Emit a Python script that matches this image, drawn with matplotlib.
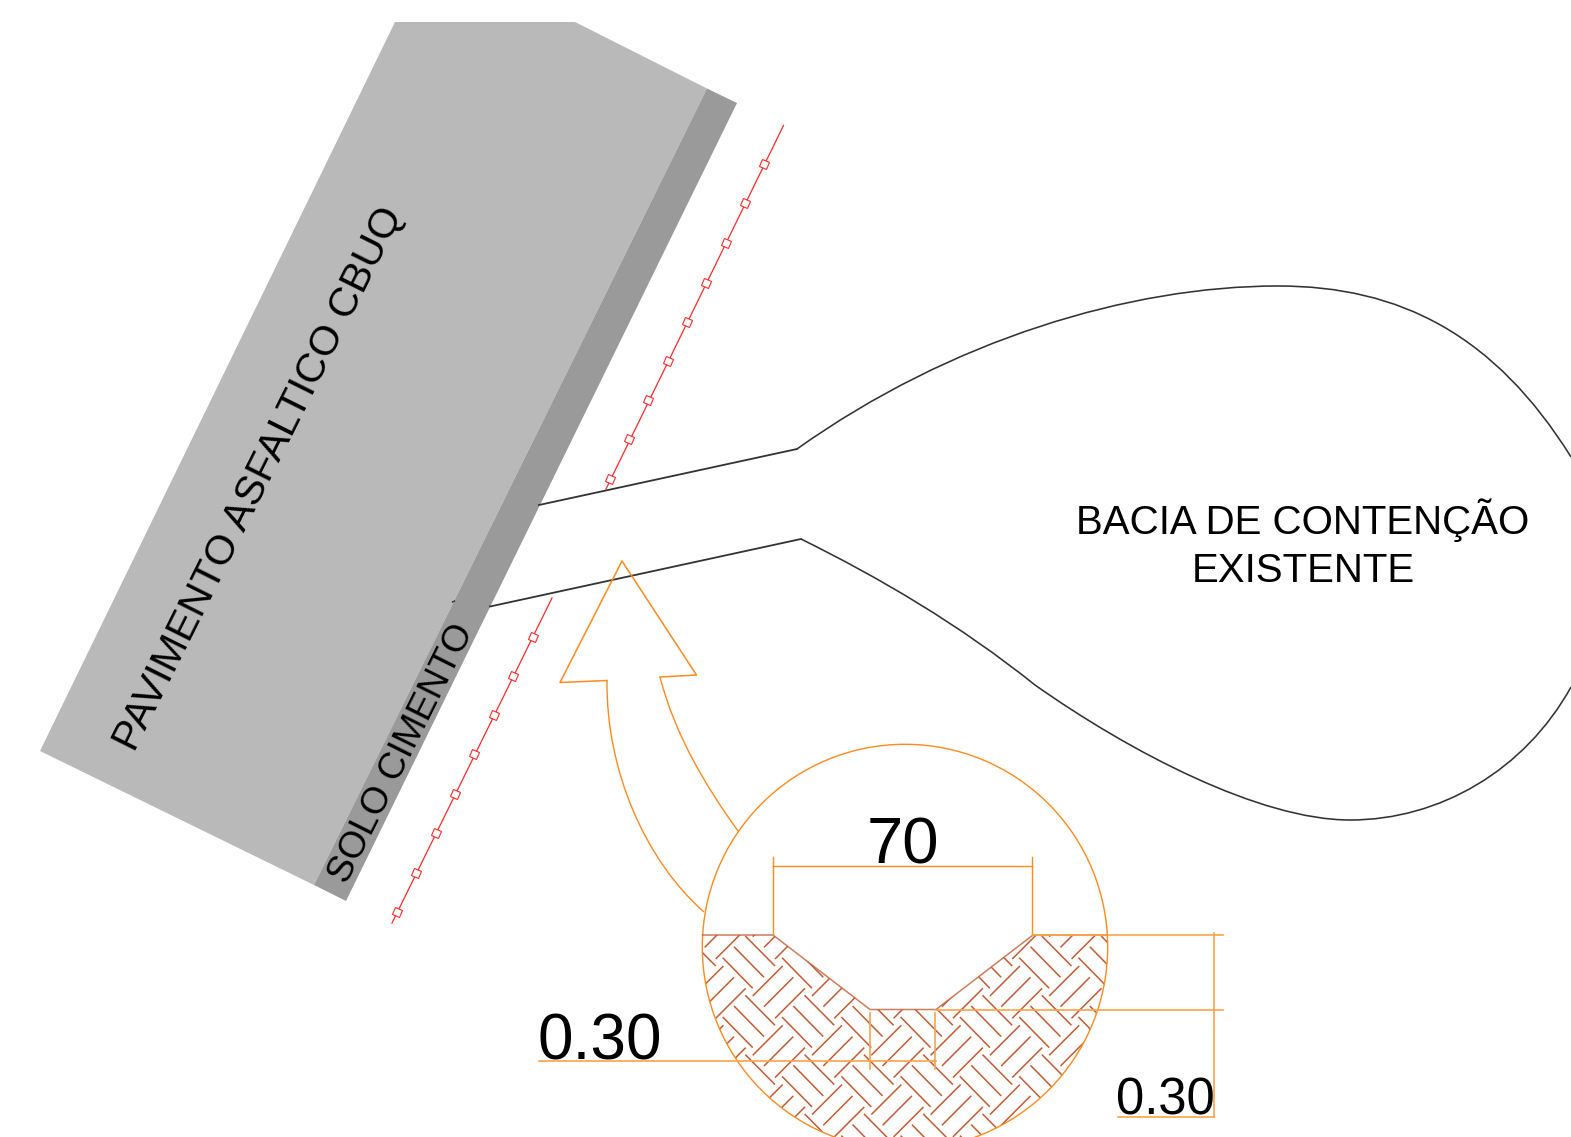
import numpy as np
import matplotlib
matplotlib.use('Agg')
from matplotlib import pyplot as plt
from matplotlib.collections import LineCollection
from matplotlib.markers import MarkerStyle
from matplotlib.patches import Polygon, PathPatch, Circle
from matplotlib.path import Path
from matplotlib.transforms import Affine2D

plt.rcParams['font.family'] = ['Liberation Sans', 'DejaVu Sans']

pavement = [(395, 22), (575, 22), (707, 88.5), (314, 885), (40, 751)]
soil = [(707, 88.5), (737, 103), (346, 901), (314, 885)]

red_line_top = [(783.5, 125.5), (606, 489)]
red_line_bottom = [(552, 598), (392, 923)]
red_marks_top = [(764.5, 163.5), (745.5, 202.5), (726.5, 242.5), (706.5, 282.5), (687.5, 321.5),
                 (668.5, 360.5), (648.5, 400), (629.5, 439), (610, 479)]
red_marks_bottom = [(533, 636.5), (513, 676), (494, 715), (474.5, 754),
                    (455, 794), (436, 833), (416, 873), (397, 912)]

basin_top = [(539, 505), (797, 449)]
basin_bottom = [(490, 606.5), (801, 539)]
# cubic pieces: start, two controls, end, two controls, end...
basin_top_curve = [(797, 449), (950, 340), (1130, 286), (1278, 286),
                   (1400, 286), (1495, 335), (1571, 457)]
basin_bottom_curve = [(801, 539), (880, 578), (960, 625), (1035, 685),
                      (1130, 752), (1260, 820), (1350, 820),
                      (1440, 820), (1525, 770), (1571, 687)]

arrow_head = [(607, 680.5), (560, 682.5), (622, 561), (696.5, 675), (660, 677)]
arrow_left = [(607, 680.5), (606, 770), (645, 860), (704, 912)]
arrow_right = [(660, 677), (675, 735), (705, 785), (738, 831)]

detail_center = (905, 947)
detail_radius = 202.7
ground_top = [(702.5, 935), (773, 935), (870, 1009.5), (936, 1009.5), (1033, 935), (1107.5, 935)]

# one tile of the hatch, repeated over the ground
hatch_tile = 59.3
hatch_back = [((745.3, 936), (775, 966)), ((734, 946.7), (764, 977.3)), ((722.7, 957.7), (752.7, 988.3))]
hatch_fwd = [((752.7, 996), (782.7, 966)), ((764, 1006.7), (793.3, 977.3)), ((775, 1018.3), (805, 988.3))]

dim_70 = [[(773, 857), (773, 935)], [(1032, 857), (1032, 935)], [(773, 866), (1032, 866)]]
dim_right = [[(1033, 935), (1223, 935)], [(936, 1009.5), (1223, 1009.5)],
             [(1214, 933), (1214, 1117)], [(1118, 1117), (1214, 1117)]]
dim_left = [[(539, 1060.5), (936, 1060.5)], [(870.5, 1012.5), (870.5, 1069)], [(935.5, 1012.5), (935.5, 1069)]]

ORANGE = '#ff8a1e'
DIM = '#ffa348'
HATCH = '#c25c34'
DARK = '#333333'


def cubic_path(pts):
    codes = [Path.MOVETO] + [Path.CURVE4] * (len(pts) - 1)
    return Path(pts, codes)


fig = plt.figure(figsize=(15.71, 11.37), dpi=100)
ax = fig.add_axes([0, 0, 1, 1])
ax.set_xlim(0, 1571)
ax.set_ylim(1137, 0)
ax.axis('off')

ax.add_patch(Polygon(pavement, closed=True, fc='#b9b9b9', ec='none'))
ax.add_patch(Polygon(soil, closed=True, fc='#9a9a9a', ec='none'))
ax.plot([452.5, 454.5], [602, 601], color='#333333', lw=1)

# red lines with square marks
mark = MarkerStyle('s', transform=Affine2D().rotate_deg(64))
for line, marks in [(red_line_top, red_marks_top), (red_line_bottom, red_marks_bottom)]:
    ax.plot(*zip(*line), color='#ff2a2a', lw=0.9, zorder=2)
    ax.plot(*zip(*marks), ls='none', marker=mark, ms=5, mfc='white', mec='#ff2a2a', mew=0.8, zorder=3)

# basin outline
for line in (basin_top, basin_bottom):
    ax.plot(*zip(*line), color=DARK, lw=1.3, zorder=4)
for curve in (basin_top_curve, basin_bottom_curve):
    ax.add_patch(PathPatch(cubic_path(curve), fc='none', ec=DARK, lw=1.15, zorder=4))

# arrow
ax.plot(*zip(*arrow_head), color=ORANGE, lw=1.1, zorder=5)
for curve in (arrow_left, arrow_right):
    ax.add_patch(PathPatch(cubic_path(curve), fc='none', ec=ORANGE, lw=1.0, zorder=5))

# detail circle and hatched ground
ax.add_patch(Circle(detail_center, detail_radius, fc='none', ec=ORANGE, lw=1.0, zorder=6))

cx, cy = detail_center
a = np.arcsin((cy - ground_top[0][1]) / detail_radius)
t = np.linspace(-a, np.pi + a, 80)[1:-1]
ground_clip = ground_top + list(zip(cx + detail_radius * np.cos(t), cy + detail_radius * np.sin(t)))
clip_patch = Polygon(ground_clip, closed=True, fc='none', ec='none', transform=ax.transData)
ax.add_patch(clip_patch)

segs = []
for i in range(-1, 8):
    for j in range(-1, 5):
        for (x0, y0), (x1, y1) in hatch_back + hatch_fwd:
            dx, dy = (i - 1) * hatch_tile, j * hatch_tile
            segs.append([(x0 + dx, y0 + dy), (x1 + dx, y1 + dy)])
hatch = LineCollection(segs, colors=HATCH, linewidths=1.1, zorder=5)
ax.add_collection(hatch)
hatch.set_clip_path(clip_patch)

ax.plot(*zip(*ground_top), color=HATCH, lw=1.1, alpha=0.8, zorder=6)

# dimensions
for seg in dim_70:
    ax.plot(*zip(*seg), color=ORANGE, lw=1.0, zorder=7)
for seg in dim_right + dim_left:
    ax.plot(*zip(*seg), color=DIM, lw=1.2, zorder=7)

# labels
ax.text(259, 478.5, 'PAVIMENTO ASFALTICO CBUQ', fontsize=29.8, rotation=63.5, rotation_mode='anchor',
        ha='center', va='center', zorder=8)
ax.text(402, 754, 'SOLO CIMENTO', fontsize=26.8, rotation=63.5, rotation_mode='anchor',
        ha='center', va='center', zorder=8)
ax.text(1303, 520, 'BACIA DE CONTENÇÃO', fontsize=29, ha='center', va='center', zorder=8)
ax.text(1303, 571, 'EXISTENTE', fontsize=29, ha='center', va='center', zorder=8)
ax.text(903, 847, '70', fontsize=47, ha='center', va='center', zorder=8)
ax.text(600, 1042, '0.30', fontsize=46, ha='center', va='center', zorder=8)
ax.text(1165, 1101, '0.30', fontsize=36.5, ha='center', va='center', zorder=8)

fig.savefig('out.png', dpi=100, facecolor='white')
